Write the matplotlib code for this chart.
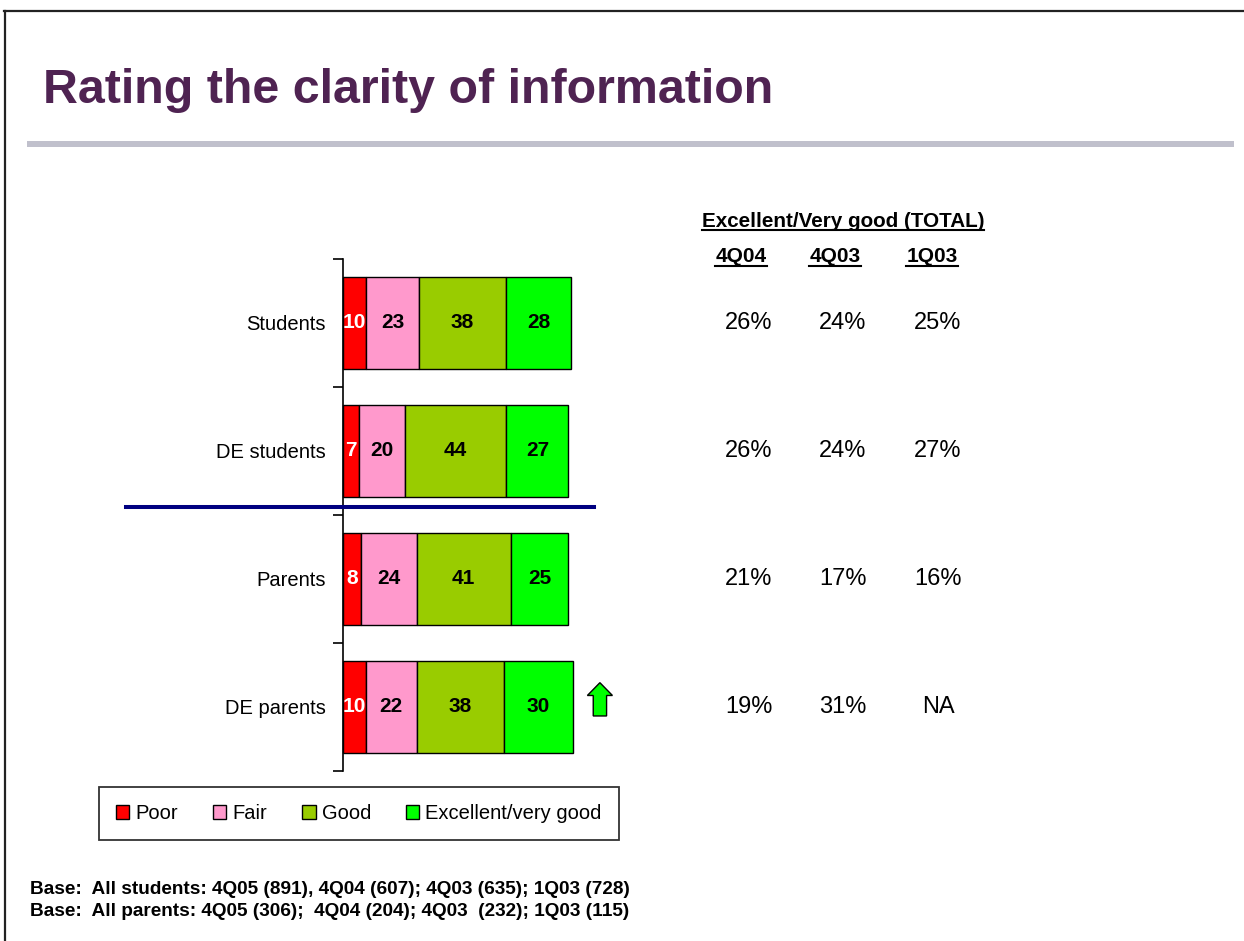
import matplotlib
matplotlib.use('Agg')
import matplotlib.pyplot as plt
import numpy as np
from matplotlib.patches import Patch, Rectangle, FancyArrow
from matplotlib.lines import Line2D
import matplotlib.transforms as mtransforms

plt.rcParams['font.family'] = ['Liberation Sans', 'DejaVu Sans']

# ---------------- data ----------------
title = 'Rating the clarity of information'
categories = ['Students', 'DE students', 'Parents', 'DE parents']
poor = [10, 7, 8, 10]
fair = [23, 20, 24, 22]
good = [38, 44, 41, 38]
excellent = [28, 27, 25, 30]
series_names = ['Poor', 'Fair', 'Good', 'Excellent/very good']
series_colors = ['#FF0000', '#FF99CC', '#99CC00', '#00FF00']
label_colors = ['white', 'black', 'black', 'black']

table_title = 'Excellent/Very good (TOTAL)'
period_labels = ['4Q04', '4Q03', '1Q03']
total_4q04 = [26, 26, 21, 19]
total_4q03 = [24, 24, 17, 31]
total_1q03 = [25, 27, 16, None]
up_arrow_rows = ['DE parents']

footer_lines = [
    'Base:  All students: 4Q05 (891), 4Q04 (607); 4Q03 (635); 1Q03 (728)',
    'Base:  All parents: 4Q05 (306);  4Q04 (204); 4Q03  (232); 1Q03 (115)',
]

# ---------------- layout helpers ----------------
W, H = 1244, 941
fig = plt.figure(figsize=(W / 100, H / 100), dpi=100)


def fx(px):
    return px / W


def fy(py):
    return 1 - py / H


# page frame (top + left rules)
fig.add_artist(Line2D([fx(4), 1], [fy(11), fy(11)], color='#222222', lw=1.6))
fig.add_artist(Line2D([fx(5), fx(5)], [fy(11), 0], color='#222222', lw=1.6))

# title + grey rule
fig.text(fx(43), fy(103), title, fontsize=34.8, fontweight='bold',
         color='#4F2352', ha='left', va='baseline')
fig.add_artist(Rectangle((fx(27), fy(147)), fx(1234) - fx(27), 6 / H,
                         color='#C0C0CC', lw=0, transform=fig.transFigure))

# ---------------- bars ----------------
ax = fig.add_axes([fx(343), fy(771), fx(573) - fx(343), (771 - 259) / H])
ax.patch.set_alpha(0)
y = np.arange(len(categories))
left = np.zeros(len(categories))
for vals, color, name, lc in zip([poor, fair, good, excellent], series_colors,
                                 series_names, label_colors):
    bars = ax.barh(y, vals, left=left, height=0.72, color=color,
                   edgecolor='black', linewidth=1, label=name, clip_on=False)
    ax.bar_label(bars, labels=[str(v) for v in vals], label_type='center',
                 color=lc, fontsize=15, fontweight='bold')
    left += np.array(vals)

ax.set_xlim(0, 100)
ax.set_ylim(len(categories) - 0.5, -0.5)
for s in ['top', 'right', 'bottom']:
    ax.spines[s].set_visible(False)
ax.spines['left'].set_linewidth(1.2)
ax.set_xticks([])
ax.set_yticks(np.arange(-0.5, len(categories)), labels=[''] * (len(categories) + 1))
ax.tick_params(axis='y', which='major', length=7, width=1.2, direction='out')
ax.set_yticks(y, labels=categories, minor=True)
ax.tick_params(axis='y', which='minor', length=0, pad=12.2, labelsize=14.5)

# significance arrow
for cat in up_arrow_rows:
    i = categories.index(cat)
    ax.add_patch(FancyArrow(111.7, i + 0.07, 0, -0.26, width=5.8,
                            head_width=10.9, head_length=0.10,
                            length_includes_head=True, fc='#00FF00',
                            ec='black', lw=1, clip_on=False))

# separator between students and parents
fig.add_artist(Line2D([fx(126), fx(594)], [fy(507), fy(507)],
                      color='#000080', lw=2.9))

# ---------------- right-hand table ----------------
trans = mtransforms.blended_transform_factory(fig.transFigure, ax.transData)
val_x = [749, 843, 938]
for xc, series in zip(val_x, [total_4q04, total_4q03, total_1q03]):
    for i, v in enumerate(series):
        txt = 'NA' if v is None else f'{v}%'
        fig.text(fx(xc), i, txt, transform=trans, ha='center', va='center',
                 fontsize=17)

hdr = fig.text(fx(843), fy(227), table_title, ha='center', va='baseline',
               fontsize=14.9, fontweight='bold')
col_hdrs = [fig.text(fx(xc), fy(262), lab, ha='center', va='baseline',
                     fontsize=15, fontweight='bold')
            for xc, lab in zip([741, 835, 932], period_labels)]

# ---------------- legend ----------------
handles = [Patch(facecolor=c, edgecolor='black', linewidth=1) for c in series_colors]
leg = fig.legend(handles, series_names, loc='center',
                 bbox_to_anchor=(fx((97 + 621) / 2), fy((786 + 841) / 2)),
                 ncol=4, fontsize=14.5, frameon=True, fancybox=False,
                 edgecolor='black', handlelength=0.65, handleheight=0.65,
                 handletextpad=0.3, columnspacing=1.75, borderpad=0.85)
leg.get_frame().set_linewidth(1.3)

# ---------------- footer ----------------
for k, line in enumerate(footer_lines):
    fig.text(fx(30), fy(890 + 22 * k), line, ha='left', va='center',
             fontsize=13.7, fontweight='bold')

# underlines for table headings
fig.canvas.draw()
r = fig.canvas.get_renderer()
for t, uy in [(hdr, 230)] + [(c, 266) for c in col_hdrs]:
    bb = t.get_window_extent(r)
    fig.add_artist(Line2D([bb.x0 / W, bb.x1 / W], [fy(uy), fy(uy)],
                          color='black', lw=1.5))

fig.savefig('out.png', dpi=100)
